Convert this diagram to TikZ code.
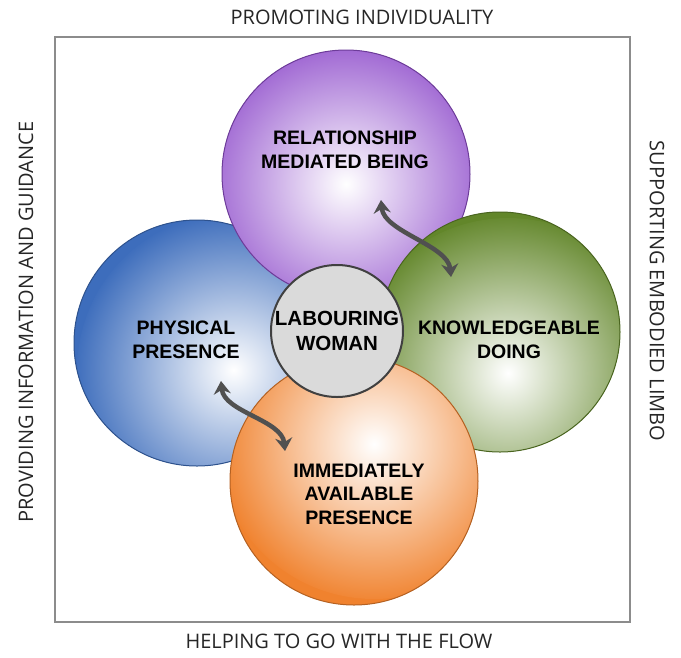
\documentclass[tikz,border=0pt]{standalone}
\usepackage{fontspec}
\setmainfont{Liberation Sans}
\newfontfamily\sidefont{Open Sans}
\usetikzlibrary{arrows.meta}

\definecolor{relcol}{HTML}{9150CC}
\definecolor{physcol}{HTML}{3D6DBC}
\definecolor{knowcol}{HTML}{62862A}
\definecolor{availcol}{HTML}{F0822E}
\definecolor{womancol}{HTML}{DADADA}
\definecolor{arrowcol}{HTML}{505050}
\definecolor{framecol}{HTML}{8C8C8C}

\begin{document}
\begin{tikzpicture}[x=1pt, y=-1pt,
    ball/.style 2 args={circle, fill=#1, draw=#1!75!black, line width=1pt, inner sep=0pt,
        path picture={\shade[inner color=white, outer color=#1]
            ([shift={(#2)}]path picture bounding box.center) circle (158pt);}},
    caption/.style={font=\bfseries\fontsize{19.5}{23.5}\selectfont, align=center},
    side/.style={font=\sidefont\fontsize{20}{22}\selectfont, text=black!85},
    link/.style={{Stealth[length=13pt,width=17pt]}-{Stealth[length=13pt,width=17pt]}, draw=arrowcol, line width=4.5pt}]
    \useasboundingbox (0,0) rectangle (681,657);

    \node (box) [draw=framecol, line width=2.5pt, minimum width=575pt, minimum height=585pt] at (342.5,329.5) {};

    % the four outer circles, back to front
    \node (phys) [ball={physcol}{38,27}, minimum size=246pt] at (197,343) {};
    \node (rel) [ball={relcol}{0,10}, minimum size=248pt] at (346,174) {};
    \node (know) [ball={knowcol}{8,44}, minimum size=240pt] at (500,332) {};
    \node (avail) [ball={availcol}{20,-40}, minimum size=248pt] at (354,481) {};

    \node (physt) [caption] at (186,340) {PHYSICAL\\PRESENCE};
    \node (relt) [caption] at (345,150) {RELATIONSHIP\\MEDIATED BEING};
    \node (knowt) [caption] at (509,340) {KNOWLEDGEABLE\\DOING};
    \node (availt) [caption] at (359,494) {IMMEDIATELY\\AVAILABLE\\PRESENCE};

    % labouring woman in the middle
    \node (woman) [circle, draw=black!75, fill=womancol, line width=2pt, minimum size=132pt, inner sep=0pt,
        caption, font=\bfseries\fontsize{20.5}{25}\selectfont] at (337,331) {LABOURING\\WOMAN};

    % two-way arrows
    \coordinate (relend) at (381,200);
    \coordinate (knowend) at (451,277);
    \coordinate (physend) at (221,381);
    \coordinate (availend) at (285,451);
    \draw [link] (relend) .. controls +(3,32) and +(-3,-32) .. (knowend);
    \draw [link] (physend) .. controls +(3,31) and +(-3,-31) .. (availend);

    % axis labels round the frame
    \node (top) [side] at (362,17) {PROMOTING INDIVIDUALITY};
    \node (bottom) [side] at (339,641) {HELPING TO GO WITH THE FLOW};
    \node (left) [side, rotate=90] at (26,322) {PROVIDING INFORMATION AND GUIDANCE};
    \node (right) [side, rotate=-90] at (657,291) {SUPPORTING EMBODIED LIMBO};
\end{tikzpicture}
\end{document}
